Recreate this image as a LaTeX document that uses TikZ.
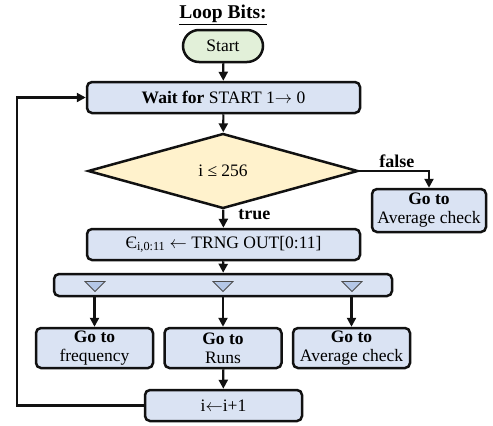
\documentclass[tikz,border=0pt]{standalone}
\usepackage{fontspec}
\setmainfont{Liberation Serif}
\usepackage{tikz}
\usetikzlibrary{arrows.meta,positioning,shapes.geometric,shapes.misc,calc}
\definecolor{boxblue}{HTML}{DAE3F3}
\definecolor{startgreen}{HTML}{E2F0D9}
\definecolor{decyellow}{HTML}{FFF2CC}
\definecolor{triblue}{HTML}{B4C7E7}
\definecolor{linedark}{HTML}{111111}
\tikzset{
  stepbox/.style={draw=linedark, line width=2.5pt, rounded corners=5pt, align=center, fill=boxblue, inner sep=1pt},
  startbox/.style={draw=linedark, line width=2.5pt, rounded rectangle, align=center, fill=startgreen, minimum width=82pt, minimum height=32pt, inner sep=1pt},
  decision/.style={diamond, draw=linedark, line width=2.5pt, fill=decyellow, minimum width=270pt, minimum height=75pt, inner sep=0pt, aspect=3.6},
  gotobox/.style={stepbox, minimum width=117pt, minimum height=40pt},
  arrow/.style={-{Triangle[length=9pt, width=9pt]}, line width=2.2pt, draw=linedark},
  tri/.style={draw=black!70, line width=0.8pt, fill=triblue},
  lbl/.style={font=\fontsize{18}{20}\selectfont\bfseries, inner sep=2pt}
}

\begin{document}
\begin{tikzpicture}[x=1pt, y=-1pt, font=\fontsize{17.5}{19}\selectfont]
  \useasboundingbox (0,0) rectangle (493,426);
  \node[font=\fontsize{19.5}{21}\selectfont] (title) at (223,15) {\underline{\textbf{Loop Bits:}}};
  \node[startbox] (start) at (223,46) {Start};
  \node[stepbox, minimum width=273pt, minimum height=31pt] (wait) at (223.5,97.5) {\textbf{Wait for} START 1$\rightarrow$ 0};
  \node[decision] (cond) at (223,171) {i ≤ 256};
  \node[stepbox, minimum width=114pt, minimum height=43pt] (avgfalse) at (429,210.5) {\textbf{Go to}\\Average check};
  \node[stepbox, minimum width=273pt, minimum height=31pt] (trng) at (223.5,244.5) {Є\textsubscript{i,0:11} $\leftarrow$ TRNG OUT[0:11]};
  \node[stepbox, minimum width=338pt, minimum height=22pt] (split) at (223,285) {};
  \node[gotobox] (freq) at (94.5,348) {\textbf{Go to}\\frequency};
  \node[gotobox] (runs) at (223,348) {\textbf{Go to}\\Runs};
  \node[gotobox] (avg) at (351.5,348) {\textbf{Go to}\\Average check};
  \node[stepbox, minimum width=157pt, minimum height=31pt] (incr) at (223.5,405.5) {i$\leftarrow$i+1};
  \coordinate (back) at (17,0);

  % split markers
  \foreach \x in {95,223,352}
    \draw[tri] (\x-10,281.5) -- (\x+10,281.5) -- (\x,291.5) -- cycle;

  \draw[arrow] (start) -- (wait);
  \draw[arrow] (wait) -- (cond);
  \draw[arrow] (cond.east) -| node[pos=0.27, above, lbl] {false} (avgfalse.north);
  \draw[arrow] (cond) -- node[pos=0.25, right, lbl, inner sep=14pt] {true} (trng);
  \draw[arrow] (trng) -- (split);
  \draw[arrow] (freq.north |- split.south) -- (freq);
  \draw[arrow] (runs.north |- split.south) -- (runs);
  \draw[arrow] (avg.north |- split.south) -- (avg);
  \draw[arrow] (runs) -- (incr);
  \draw[arrow] (incr.west) -| (back |- incr.west) |- (wait.west);
\end{tikzpicture}
\end{document}
